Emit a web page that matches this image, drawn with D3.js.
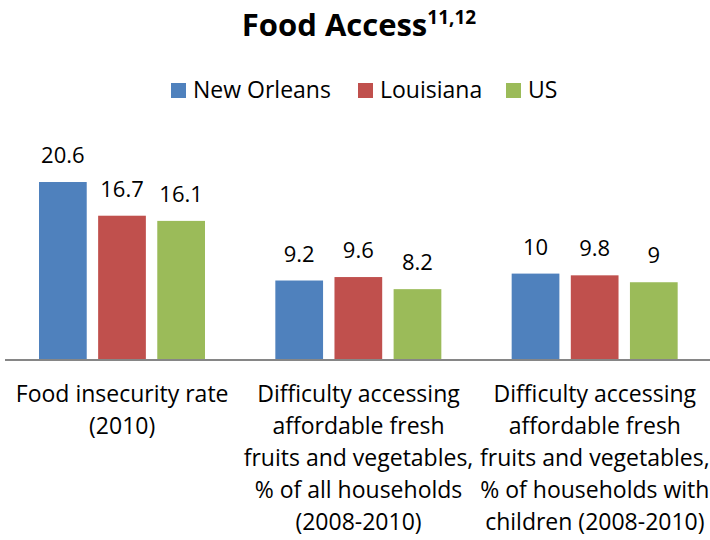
<!DOCTYPE html>
<html>
<head>
<meta charset="utf-8">
<script src="https://cdn.jsdelivr.net/npm/d3@7"></script>
<style>
  html, body { margin: 0; padding: 0; background: #fff; }
  svg { display: block; }
  text { font-family: "Open Sans", Lato, sans-serif; fill: #000; }
</style>
</head>
<body>
<svg id="chart" width="710" height="540"></svg>
<script>
const categories = [
  ["Food insecurity rate", "(2010)"],
  ["Difficulty accessing", "affordable fresh", "fruits and vegetables,", "% of all households", "(2008-2010)"],
  ["Difficulty accessing", "affordable fresh", "fruits and vegetables,", "% of households with", "children (2008-2010)"]
];
const seriesNames = ["New Orleans", "Louisiana", "US"];
const newOrleans = [20.6, 9.2, 10];
const louisiana = [16.7, 9.6, 9.8];
const us = [16.1, 8.2, 9];
const colors = ["#4F81BD", "#C0504D", "#9BBB59"];

const seriesValues = [newOrleans, louisiana, us];
const catIdx = categories.map((c, i) => i);

const svg = d3.select("#chart");

const x0 = d3.scaleBand().domain(catIdx).range([4, 713]).paddingInner(0).paddingOuter(0);
const x1 = d3.scaleBand().domain(seriesNames).range([35, 201]).paddingInner(0.193).paddingOuter(0);
const y = d3.scaleLinear().domain([0, 25]).range([360, 144]);

// Title
const title = svg.append("text")
  .attr("x", 359).attr("y", 36)
  .attr("text-anchor", "middle")
  .style("font-weight", "bold").style("font-size", "31px");
title.append("tspan").text("Food Access");
title.append("tspan").text("11,12").attr("dy", -12).style("font-size", "19px");

// Legend
const legendX = [171, 358, 506];
const lg = svg.append("g").selectAll("g").data(seriesNames).join("g")
  .attr("transform", (d, i) => `translate(${legendX[i]},83)`);
lg.append("rect").attr("width", 15).attr("height", 15).attr("fill", (d, i) => colors[i]);
lg.append("text").attr("x", 22).attr("y", 15).style("font-size", "23px").text(d => d);

// Bars
const groups = svg.append("g").selectAll("g").data(catIdx).join("g")
  .attr("transform", d => `translate(${x0(d)},0)`);

groups.selectAll("rect").data(ci => seriesNames.map((s, si) => ({s, si, v: seriesValues[si][ci]})))
  .join("rect")
  .attr("x", d => x1(d.s))
  .attr("width", x1.bandwidth())
  .attr("y", d => y(d.v))
  .attr("height", d => y(0) - y(d.v))
  .attr("fill", d => colors[d.si]);

groups.selectAll("text.val").data(ci => seriesNames.map((s, si) => ({s, si, v: seriesValues[si][ci]})))
  .join("text")
  .attr("class", "val")
  .attr("x", d => x1(d.s) + x1.bandwidth() / 2)
  .attr("y", d => y(d.v) - 19)
  .attr("text-anchor", "middle")
  .style("font-size", "22px")
  .text(d => d3.format("~")(d.v));

// Axis baseline
const xAxis = d3.axisBottom(x0).tickSize(0).tickFormat("");
const axisG = svg.append("g").attr("transform", `translate(0,${y(0)})`).call(xAxis);
axisG.select(".domain").attr("stroke", "#868686").attr("stroke-width", 2).attr("d", "M5,0H713");

// Category labels
const labG = svg.append("g").selectAll("text").data(catIdx).join("text")
  .attr("text-anchor", "middle")
  .style("font-size", "23px")
  .attr("transform", d => `translate(${x0(d) + x0.bandwidth() / 2},402)`);
labG.selectAll("tspan").data(d => categories[d]).join("tspan")
  .attr("x", 0).attr("y", (d, i) => i * 32)
  .text(d => d);
</script>
</body>
</html>
